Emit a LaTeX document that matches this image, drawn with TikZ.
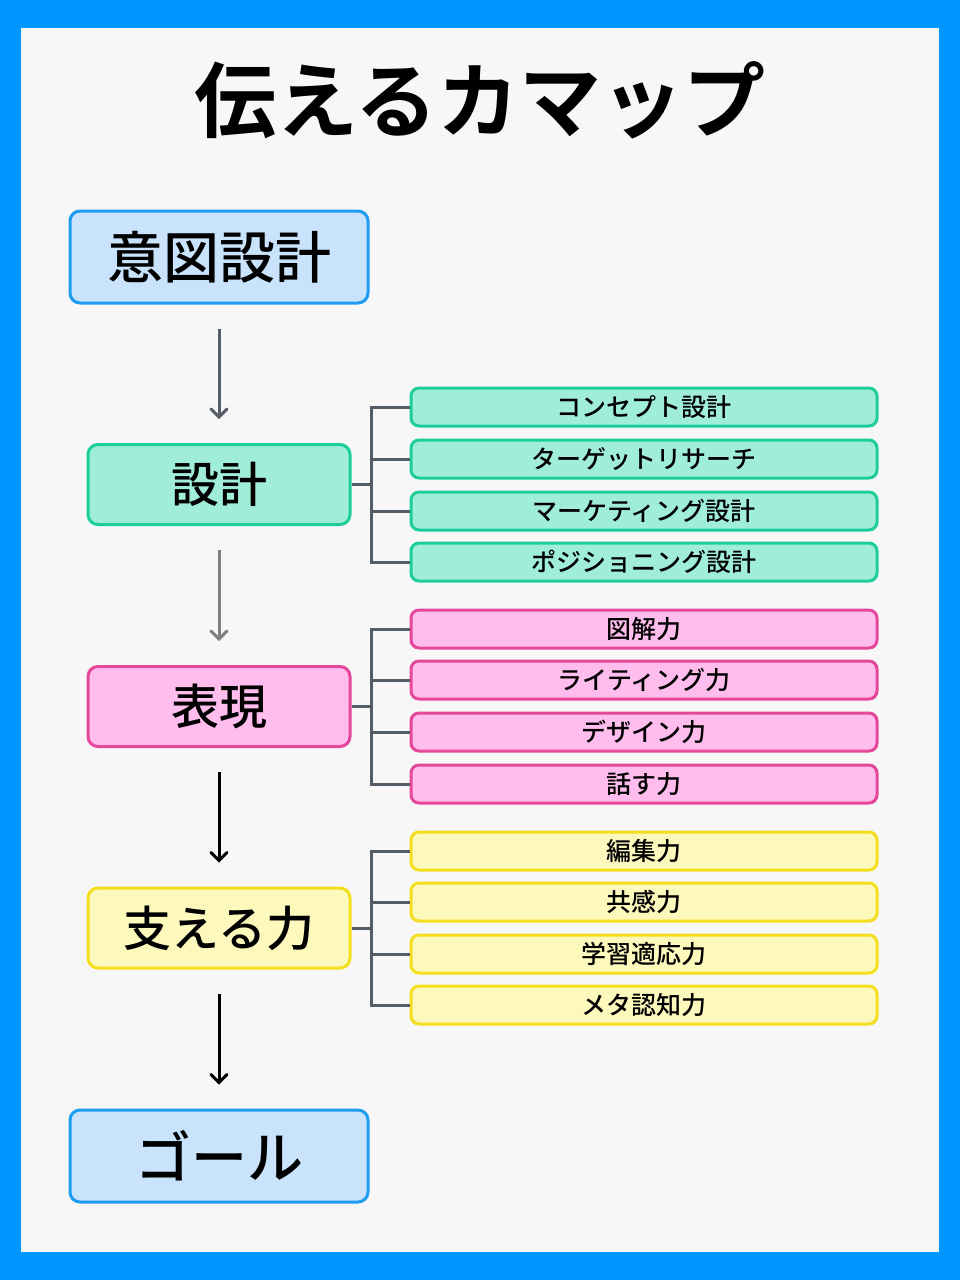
\documentclass[tikz,border=0pt]{standalone}
\usepackage{fontspec}
\setmainfont{Noto Sans CJK JP}[UprightFont={* Medium}, BoldFont={* Bold}]
\usetikzlibrary{arrows.meta}

\definecolor{frameblue}{RGB}{0,150,255}
\definecolor{panel}{RGB}{247,247,247}
\definecolor{bluefill}{RGB}{200,227,251}
\definecolor{blueline}{RGB}{30,156,240}
\definecolor{mintfill}{RGB}{160,238,218}
\definecolor{mintline}{RGB}{30,206,154}
\definecolor{pinkfill}{RGB}{255,189,238}
\definecolor{pinkline}{RGB}{228,71,155}
\definecolor{yellowfill}{RGB}{253,248,188}
\definecolor{yellowline}{RGB}{245,222,30}
\definecolor{spinegray}{RGB}{84,93,102}
\definecolor{midgray}{RGB}{128,128,128}

\tikzset{
  mainbox/.style={draw, line width=1.5pt, rounded corners=5pt, inner sep=0pt,
    minimum width=149pt, minimum height=46pt, font=\fontsize{28}{30}\selectfont},
  midbox/.style={draw, line width=1.5pt, rounded corners=5pt, inner sep=0pt,
    minimum width=131pt, minimum height=40pt, font=\fontsize{24}{26}\selectfont},
  subbox/.style={draw, line width=1.5pt, rounded corners=4pt, inner sep=0pt,
    minimum width=233pt, minimum height=19pt, font=\fontsize{12.5}{14}\selectfont},
  spine/.style={draw=spinegray, line width=1.5pt},
  flow/.style={line width=1.5pt, shorten <=12pt, shorten >=12pt,
    -{Straight Barb[length=4pt, width=8pt, line cap=round]}},
}

\begin{document}
\begin{tikzpicture}[x=0.5pt, y=-0.5pt]
  % \helpgrid
  \fill[frameblue] (0,0) rectangle (960,1280);
  \fill[panel] (21,28) rectangle (939,1252);
  \useasboundingbox (0,0) rectangle (960,1280);

  \node[font=\fontsize{41}{44}\selectfont\bfseries] (title) at (480,100) {伝えるカマップ};

  \node[mainbox, fill=bluefill, draw=blueline] (intent) at (219,257) {意図設計};
  \node[midbox, fill=mintfill, draw=mintline] (design) at (219,484.5) {設計};
  \node[midbox, fill=pinkfill, draw=pinkline] (expr) at (219,706.5) {表現};
  \node[midbox, fill=yellowfill, draw=yellowline] (support) at (219,928) {支える力};
  \node[mainbox, fill=bluefill, draw=blueline] (goal) at (219,1156) {ゴール};

  \draw[flow, draw=spinegray] (intent) -- (design);
  \draw[flow, draw=midgray] (design) -- (expr);
  \draw[flow, draw=black] (expr) -- (support);
  \draw[flow, draw=black] (support) -- (goal);

  % design branch
  \foreach \txt/\yy [count=\i] in {コンセプト設計/407, ターゲットリサーチ/459,
      マーケティング設計/511, ポジショニング設計/562}
    \node[subbox, fill=mintfill, draw=mintline] (d\i) at (644,\yy) {\txt};
  \coordinate (dspine) at (371,484.5);
  \draw[spine] (design.east) -- (dspine);
  \foreach \i in {1,...,4}
    \draw[spine] (d\i.west) -| (dspine);

  % expression branch
  \foreach \txt/\yy [count=\i] in {図解力/629, ライティング力/680,
      デザイン力/732, 話す力/784}
    \node[subbox, fill=pinkfill, draw=pinkline] (e\i) at (644,\yy) {\txt};
  \coordinate (espine) at (371,706.5);
  \draw[spine] (expr.east) -- (espine);
  \foreach \i in {1,...,4}
    \draw[spine] (e\i.west) -| (espine);

  % support branch
  \foreach \txt/\yy [count=\i] in {編集力/851, 共感力/902,
      学習適応力/954, メタ認知力/1005}
    \node[subbox, fill=yellowfill, draw=yellowline] (s\i) at (644,\yy) {\txt};
  \coordinate (sspine) at (371,928);
  \draw[spine] (support.east) -- (sspine);
  \foreach \i in {1,...,4}
    \draw[spine] (s\i.west) -| (sspine);
\end{tikzpicture}
\end{document}
